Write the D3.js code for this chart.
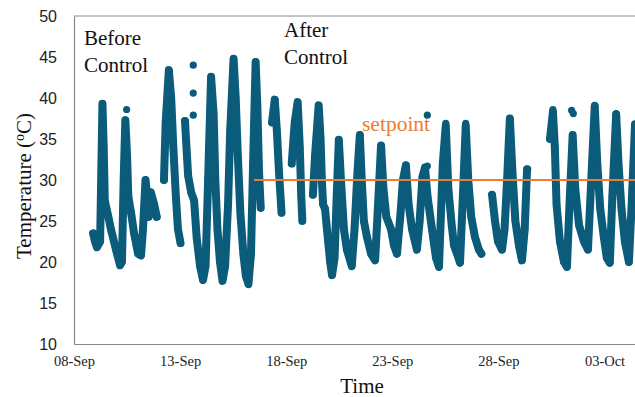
<!DOCTYPE html>
<html>
<head>
<meta charset="utf-8">
<script src="https://cdn.jsdelivr.net/npm/d3@7"></script>
<style>
  body { margin: 0; background: #fff; }
  svg { display: block; }
</style>
</head>
<body>
<div id="chart"></div>
<script>
// readings as [days since 08-Sep 00:00, temperature °C], one array per unbroken run of data
const before_control = [[0.90,23.5],[0.99,22.5],[1.08,21.8],[1.23,22.5],[1.30,33],[1.34,39.3],[1.40,34],[1.45,27.5],[1.62,25.5],[1.74,24],[1.98,21.5],[2.17,19.6],[2.26,20],[2.34,30],[2.42,37.3],[2.50,33],[2.56,28],[2.69,26],[2.83,23.5],[3.02,21],[3.16,20.8],[3.25,24],[3.37,30],[3.45,28],[3.52,25.5],[3.62,28.5],[3.78,27],[3.90,25.5]];
const run_13sep = [[4.24,30],[4.32,37],[4.47,43.4],[4.58,40],[4.68,34],[4.80,28],[4.90,24],[5.02,22.3]];
const run_14sep = [[5.23,37.2],[5.30,34],[5.38,30.5],[5.52,28.5],[5.66,27.5],[5.78,23],[5.94,19.5],[6.08,17.8],[6.20,19.5],[6.32,30],[6.46,42.6],[6.58,38],[6.66,30],[6.76,24],[6.88,20],[7.00,17.7],[7.12,19.5],[7.26,27],[7.36,36],[7.52,44.8],[7.62,40],[7.72,33],[7.84,26],[7.98,21],[8.10,18.3],[8.22,17.3],[8.34,21],[8.44,32],[8.56,44.4],[8.64,39],[8.72,31],[8.80,26.6]];
const run_17sep = [[9.33,37],[9.46,39.8],[9.56,36],[9.66,31],[9.78,26]];
const run_18sep = [[10.26,32],[10.40,37],[10.54,39.5],[10.64,34],[10.71,28],[10.76,25]];
const run_19sep = [[11.26,28.2],[11.36,33],[11.53,39.1],[11.62,35],[11.68,30],[11.74,27],[11.83,26.5],[11.92,24],[12.07,20],[12.16,18.4],[12.28,20.5],[12.38,28],[12.48,34.9],[12.58,30],[12.72,24],[12.86,21.5],[13.09,19.5],[13.22,24],[13.36,31],[13.47,35.5],[13.56,30],[13.66,25],[13.81,23],[14.00,21],[14.19,20.2],[14.31,26],[14.47,34.2],[14.58,29],[14.72,25.5],[14.94,24],[15.08,22],[15.22,21],[15.39,26],[15.50,30],[15.64,31.8],[15.77,27],[15.93,24],[16.16,21.5],[16.29,25],[16.42,30.4],[16.54,31.5],[16.66,28],[16.87,24],[17.06,20.5],[17.20,19.4],[17.28,25],[17.38,32],[17.52,36.6],[17.64,29],[17.80,24.5],[17.91,22],[18.05,21],[18.19,19.9],[18.31,27],[18.46,36.6],[18.58,30],[18.72,25.5],[18.90,23],[19.08,21.5],[19.20,21]];
const run_27sep = [[19.70,28.2],[19.84,25],[19.98,22.5],[20.17,21.5],[20.29,24],[20.41,30],[20.54,37.5],[20.66,31],[20.80,25],[20.97,22],[21.11,20.2],[21.24,24],[21.35,31.3]];
const run_30sep = [[22.43,35],[22.57,38.3],[22.66,34],[22.74,27],[22.90,22.5],[23.09,20],[23.23,19.4],[23.35,27],[23.50,35.5],[23.62,29],[23.80,24.5],[24.03,22.5],[24.22,21.5],[24.34,28],[24.54,39],[24.66,32],[24.80,26.5],[24.97,23],[25.11,20.5],[25.25,19.9],[25.37,28],[25.55,38],[25.66,32],[25.80,26.5],[25.96,22.5],[26.15,20],[26.28,27],[26.44,36.8],[26.60,29],[26.90,22]];
const stray_points = [[2.48,38.6],[5.62,44],[5.62,40.6],[5.62,37.9],[16.65,37.9],[16.65,31.7],[17.52,36.9],[18.46,36.9],[21.38,31.3],[22.57,38.6],[23.45,38.5],[23.53,38.1],[24.54,39.1],[25.55,38.1]];

const setpoint = 30;
const setpoint_start = 8.48;
const y_ticks = [10, 15, 20, 25, 30, 35, 40, 45, 50];
const x_tick_days = [0, 5, 10, 15, 20, 25];

const width = 635;
const height = 397;
const start = new Date(2023, 8, 8);
const to_date = (d) => new Date(start.getTime() + d * 864e5);

const x = d3.scaleTime()
    .domain([start, to_date(30)])
    .range([74, 74 + 30 * 21.22]);
const y = d3.scaleLinear()
    .domain([10, 50])
    .range([344, 16]);

const svg = d3.select("#chart").append("svg")
    .attr("width", width)
    .attr("height", height);

const axis_color = "#8a8a8a";
const dot_color = "#0b5b7b";
const orange = "#ed7d31";
const serif = "'Liberation Serif', 'Times New Roman', serif";

// frame: top line + axes
svg.append("line")
    .attr("x1", x(start)).attr("x2", width)
    .attr("y1", y(50)).attr("y2", y(50))
    .attr("stroke", axis_color).attr("stroke-width", 1.2);

const y_axis = svg.append("g")
    .attr("transform", `translate(${x(start)},0)`)
    .call(d3.axisLeft(y).tickValues(y_ticks).tickSize(0).tickPadding(17).tickFormat(d3.format("d")));
y_axis.select(".domain").attr("stroke", axis_color).attr("stroke-width", 1.2);
y_axis.selectAll("text")
    .attr("font-family", "'Liberation Sans', Arial, sans-serif")
    .attr("font-size", 16)
    .attr("fill", "#222");

const x_axis = svg.append("g")
    .attr("transform", `translate(0,${y(10)})`)
    .call(d3.axisBottom(x).tickValues(x_tick_days.map(to_date)).tickSize(0).tickPadding(12).tickFormat(d3.timeFormat("%d-%b")));
x_axis.select(".domain").attr("stroke", axis_color).attr("stroke-width", 1.2);
x_axis.selectAll("text")
    .attr("font-family", serif)
    .attr("font-size", 14.5)
    .attr("fill", "#222");

// temperature readings
const line = d3.line()
    .x(d => x(to_date(d[0])))
    .y(d => y(d[1]));

const runs = [before_control, run_13sep, run_14sep, run_17sep, run_18sep, run_19sep, run_27sep, run_30sep];

svg.append("g").selectAll("path")
    .data(runs)
    .enter()
    .append("path")
    .attr("d", line)
    .attr("fill", "none")
    .attr("stroke", dot_color)
    .attr("stroke-width", 8)
    .attr("stroke-linejoin", "round")
    .attr("stroke-linecap", "round");

svg.append("g").selectAll("circle")
    .data(runs.flat().concat(stray_points))
    .enter()
    .append("circle")
    .attr("cx", d => x(to_date(d[0])))
    .attr("cy", d => y(d[1]))
    .attr("r", 3.6)
    .attr("fill", dot_color);

// setpoint line
svg.append("line")
    .attr("x1", x(to_date(setpoint_start))).attr("x2", width)
    .attr("y1", y(setpoint)).attr("y2", y(setpoint))
    .attr("stroke", orange).attr("stroke-width", 2);

svg.append("text")
    .attr("x", 362).attr("y", 131)
    .attr("font-family", serif)
    .attr("font-size", 21.5)
    .attr("fill", orange)
    .text("setpoint");

// annotations
const note = (x0, y0, lines) => {
    const t = svg.append("text")
        .attr("font-family", serif)
        .attr("font-size", 21)
        .attr("fill", "#111");
    lines.forEach((s, i) => {
        t.append("tspan").attr("x", x0).attr("y", y0 + i * 27).text(s);
    });
};
note(84, 45, ["Before", "Control"]);
note(284, 37, ["After", "Control"]);

// axis titles
svg.append("text")
    .attr("x", 362).attr("y", 393)
    .attr("text-anchor", "middle")
    .attr("font-family", serif)
    .attr("font-size", 21)
    .attr("fill", "#111")
    .text("Time");

const y_title = svg.append("text")
    .attr("transform", "translate(31,186) rotate(-90)")
    .attr("text-anchor", "middle")
    .attr("font-family", serif)
    .attr("font-size", 21)
    .attr("fill", "#111");
y_title.append("tspan").text("Temperature (");
y_title.append("tspan").attr("font-size", 14).attr("dy", -7).text("o");
y_title.append("tspan").attr("dy", 7).text("C)");
</script>
</body>
</html>
